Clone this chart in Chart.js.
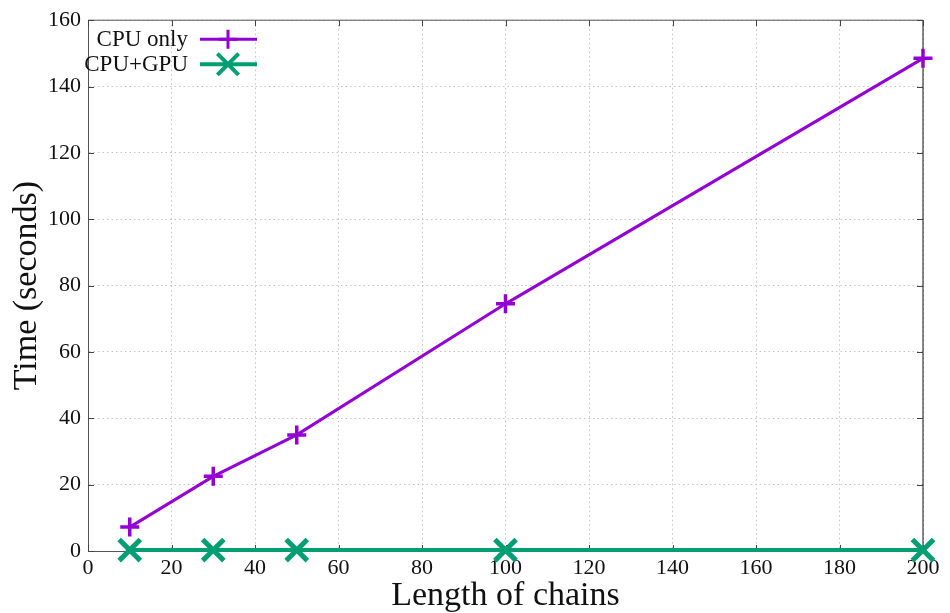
<!DOCTYPE html>
<html lang="en">

<head>
    <meta charset="UTF-8">
    <title>CPU vs CPU+GPU time</title>
    <script src="https://cdn.jsdelivr.net/npm/chart.js"></script>
    <style>
        html, body { margin: 0; padding: 0; background: #fff; }
        #wrap { width: 950px; height: 613px; }
    </style>
</head>

<body>
    <div id="wrap"><canvas id="timeChart"></canvas></div>
    <script>
        // chain lengths and measured run times (seconds)
        const chainLengths = [10, 30, 50, 100, 200];
        const cpuOnly = [7.2, 22.5, 35, 74.5, 148.5];
        const cpuGpu = [0.3, 0.3, 0.3, 0.3, 0.3];
        const xTicks = [0, 20, 40, 60, 80, 100, 120, 140, 160, 180, 200];
        const yTicks = [0, 20, 40, 60, 80, 100, 120, 140, 160];

        const serif = 'Liberation Serif';

        const toPoints = (ys) => chainLengths.map((x, i) => ({ x: x, y: ys[i] }));

        // top/right frame plus gnuplot-like inward tick marks
        const framePlugin = {
            id: 'frame',
            beforeDatasetsDraw(chart) {
                const { ctx, chartArea: a, scales } = chart;
                const len = 6;
                ctx.save();
                ctx.lineWidth = 1;
                ctx.strokeStyle = '#555';
                ctx.beginPath();
                ctx.moveTo(a.left, a.top);
                ctx.lineTo(a.right, a.top);
                ctx.stroke();
                ctx.strokeStyle = '#111';
                ctx.beginPath();
                ctx.moveTo(a.right, a.top);
                ctx.lineTo(a.right, a.bottom);
                ctx.stroke();
                ctx.strokeStyle = '#444';
                ctx.beginPath();
                xTicks.forEach(v => {
                    const px = Math.round(scales.x.getPixelForValue(v)) + 0.5;
                    ctx.moveTo(px, a.bottom); ctx.lineTo(px, a.bottom - len);
                    ctx.moveTo(px, a.top); ctx.lineTo(px, a.top + len);
                });
                yTicks.forEach(v => {
                    const py = Math.round(scales.y.getPixelForValue(v)) + 0.5;
                    ctx.moveTo(a.left, py); ctx.lineTo(a.left + len, py);
                    ctx.moveTo(a.right, py); ctx.lineTo(a.right - len, py);
                });
                ctx.stroke();
                ctx.restore();
            }
        };

        // legend inside the plot: right-aligned text, sample line on the right
        const keyPlugin = {
            id: 'key',
            afterDraw(chart) {
                const { ctx, chartArea: a } = chart;
                ctx.save();
                ctx.font = '23px "' + serif + '"';
                ctx.textAlign = 'right';
                ctx.textBaseline = 'middle';
                chart.data.datasets.forEach((ds, i) => {
                    const y = a.top + 19 + i * 25;
                    ctx.fillStyle = '#111';
                    ctx.fillText(ds.label, a.left + 100, y + 1);
                    ctx.strokeStyle = ds.borderColor;
                    ctx.lineWidth = ds.borderWidth;
                    ctx.beginPath();
                    ctx.moveTo(a.left + 112, y);
                    ctx.lineTo(a.left + 169, y);
                    ctx.stroke();
                    Chart.helpers.drawPoint(ctx, {
                        pointStyle: ds.pointStyle,
                        radius: ds.pointRadius,
                        rotation: 0,
                        borderWidth: ds.pointBorderWidth
                    }, a.left + 140, y);
                });
                ctx.restore();
            }
        };

        const ctx = document.getElementById('timeChart').getContext('2d');
        const timeChart = new Chart(ctx, {
            type: 'line',
            data: {
                datasets: [
                    {
                        label: 'CPU only',
                        data: toPoints(cpuOnly),
                        borderColor: '#9400d3',
                        backgroundColor: '#9400d3',
                        borderWidth: 3,
                        pointStyle: 'cross',
                        pointRadius: 9.5,
                        pointBorderWidth: 3.5,
                        pointBorderColor: '#9400d3',
                        clip: false
                    },
                    {
                        label: 'CPU+GPU',
                        data: toPoints(cpuGpu),
                        borderColor: '#009e73',
                        backgroundColor: '#009e73',
                        borderWidth: 4,
                        pointStyle: 'crossRot',
                        pointRadius: 15,
                        pointBorderWidth: 5,
                        pointBorderColor: '#009e73',
                        clip: false
                    }
                ]
            },
            options: {
                responsive: true,
                maintainAspectRatio: false,
                animation: false,
                layout: { padding: { top: 18, right: 27, left: 0, bottom: 0 } },
                plugins: {
                    legend: { display: false },
                    tooltip: { enabled: false }
                },
                scales: {
                    x: {
                        type: 'linear',
                        min: 0,
                        max: 200,
                        afterFit(scale) { scale.height = 62; },
                        afterBuildTicks(scale) { scale.ticks = xTicks.map(v => ({ value: v })); },
                        ticks: { color: '#111', padding: 4, font: { family: serif, size: 22 } },
                        grid: { color: '#c4c4c4', lineWidth: 1, drawTicks: false },
                        border: { color: '#555', width: 1, dash: [1.5, 3] },
                        title: {
                            display: true,
                            text: 'Length of chains',
                            color: '#111',
                            padding: 0,
                            font: { family: serif, size: 34, lineHeight: 1.0 }
                        }
                    },
                    y: {
                        min: 0,
                        max: 160,
                        afterFit(scale) { scale.width = 88; },
                        afterBuildTicks(scale) { scale.ticks = yTicks.map(v => ({ value: v })); },
                        ticks: { color: '#111', padding: 7, font: { family: serif, size: 22 } },
                        grid: { color: '#c4c4c4', lineWidth: 1, drawTicks: false },
                        border: { color: '#555', width: 1, dash: [1.5, 3] },
                        title: {
                            display: true,
                            text: 'Time (seconds)',
                            color: '#111',
                            padding: { top: 10, bottom: 0 },
                            font: { family: serif, size: 34, lineHeight: 1.0 }
                        }
                    }
                }
            },
            plugins: [framePlugin, keyPlugin]
        });
    </script>
</body>

</html>
